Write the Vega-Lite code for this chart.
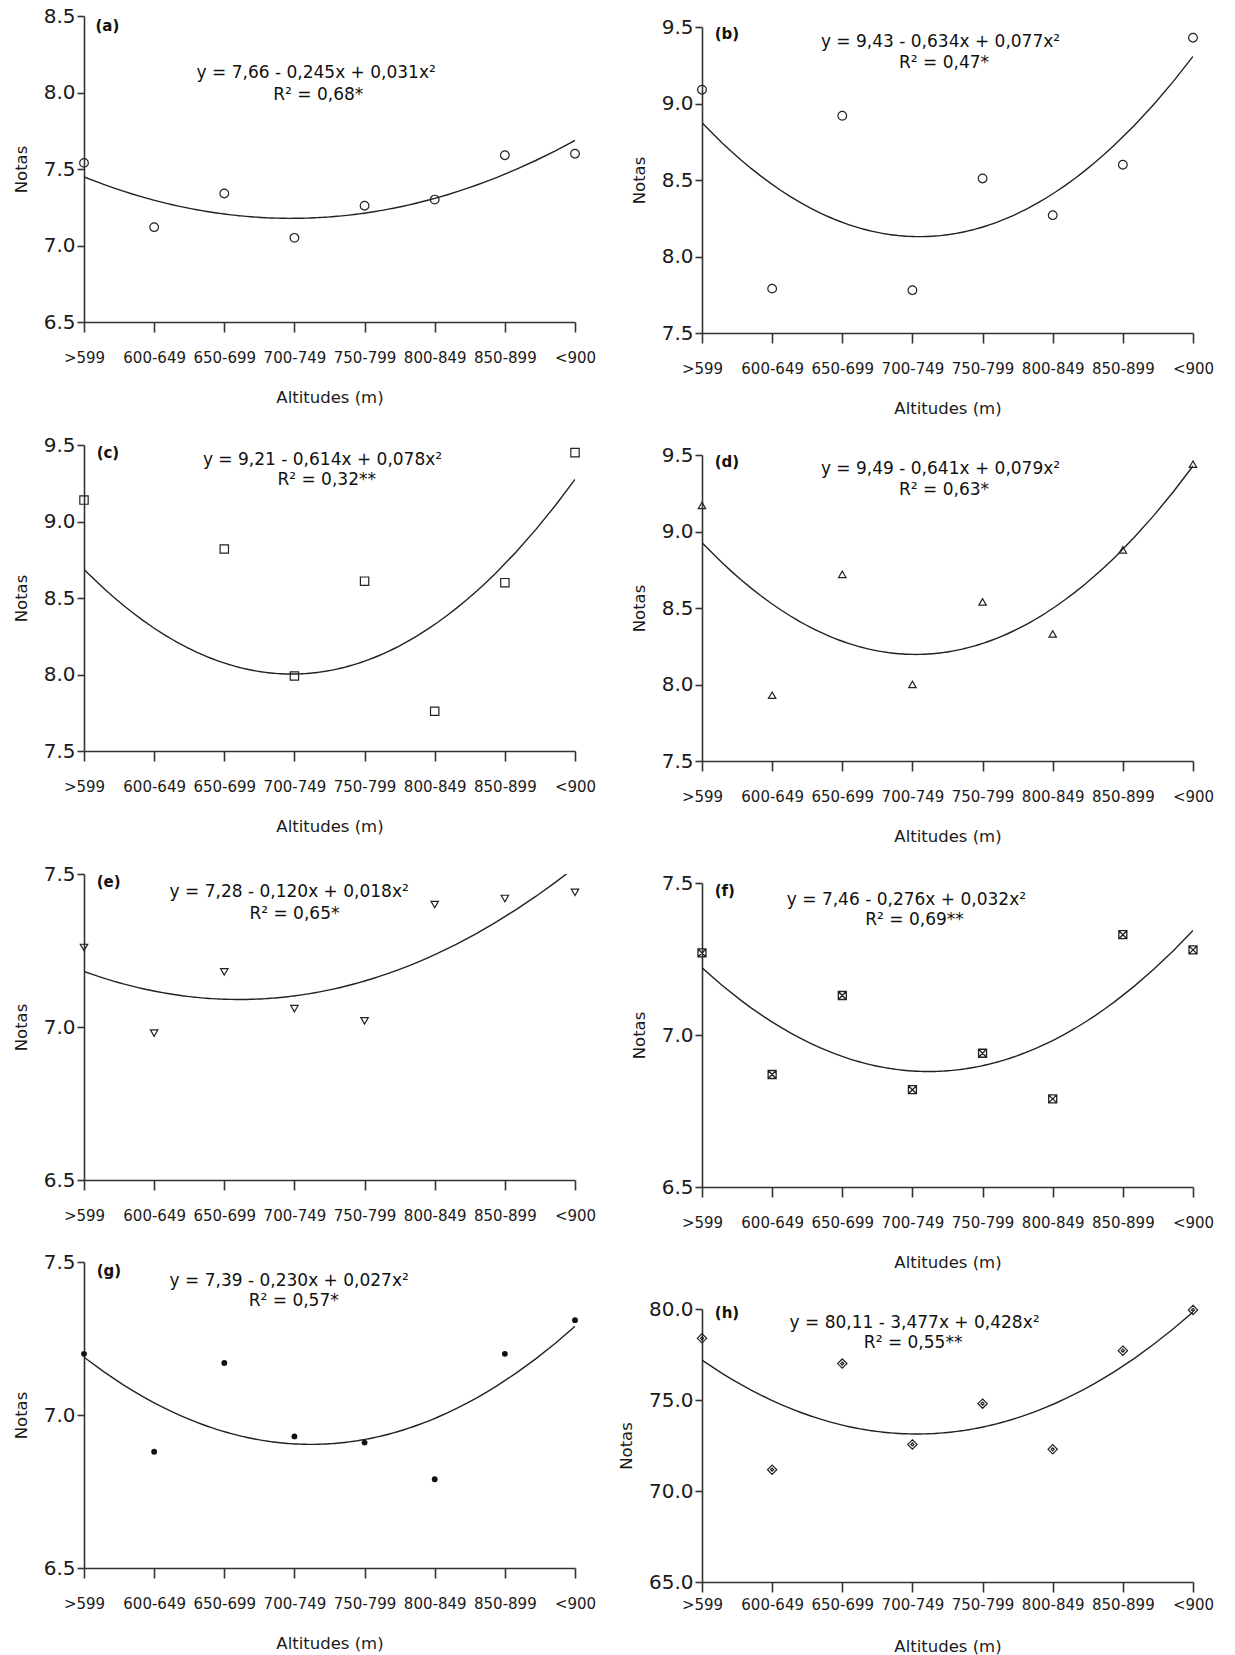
{
  "$schema": "https://vega.github.io/schema/vega-lite/v6.json",
  "background": "white",
  "padding": {"left": 13, "top": 6, "right": 5, "bottom": 5},
  "datasets": {
    "pts": [
      {"panel": "a", "alt": 1, "nota": 7.54}, {"panel": "a", "alt": 2, "nota": 7.12}, {"panel": "a", "alt": 3, "nota": 7.34}, {"panel": "a", "alt": 4, "nota": 7.05},
      {"panel": "a", "alt": 5, "nota": 7.26}, {"panel": "a", "alt": 6, "nota": 7.30}, {"panel": "a", "alt": 7, "nota": 7.59}, {"panel": "a", "alt": 8, "nota": 7.60},
      {"panel": "b", "alt": 1, "nota": 9.09}, {"panel": "b", "alt": 2, "nota": 7.79}, {"panel": "b", "alt": 3, "nota": 8.92}, {"panel": "b", "alt": 4, "nota": 7.78},
      {"panel": "b", "alt": 5, "nota": 8.51}, {"panel": "b", "alt": 6, "nota": 8.27}, {"panel": "b", "alt": 7, "nota": 8.60}, {"panel": "b", "alt": 8, "nota": 9.43},
      {"panel": "c", "alt": 1, "nota": 9.14}, {"panel": "c", "alt": 2, "nota": 7.11}, {"panel": "c", "alt": 3, "nota": 8.82}, {"panel": "c", "alt": 4, "nota": 7.99},
      {"panel": "c", "alt": 5, "nota": 8.61}, {"panel": "c", "alt": 6, "nota": 7.76}, {"panel": "c", "alt": 7, "nota": 8.60}, {"panel": "c", "alt": 8, "nota": 9.45},
      {"panel": "d", "alt": 1, "nota": 9.17}, {"panel": "d", "alt": 2, "nota": 7.93}, {"panel": "d", "alt": 3, "nota": 8.72}, {"panel": "d", "alt": 4, "nota": 8.00},
      {"panel": "d", "alt": 5, "nota": 8.54}, {"panel": "d", "alt": 6, "nota": 8.33}, {"panel": "d", "alt": 7, "nota": 8.88}, {"panel": "d", "alt": 8, "nota": 9.44},
      {"panel": "e", "alt": 1, "nota": 7.26}, {"panel": "e", "alt": 2, "nota": 6.98}, {"panel": "e", "alt": 3, "nota": 7.18}, {"panel": "e", "alt": 4, "nota": 7.06},
      {"panel": "e", "alt": 5, "nota": 7.02}, {"panel": "e", "alt": 6, "nota": 7.40}, {"panel": "e", "alt": 7, "nota": 7.42}, {"panel": "e", "alt": 8, "nota": 7.44},
      {"panel": "f", "alt": 1, "nota": 7.27}, {"panel": "f", "alt": 2, "nota": 6.87}, {"panel": "f", "alt": 3, "nota": 7.13}, {"panel": "f", "alt": 4, "nota": 6.82},
      {"panel": "f", "alt": 5, "nota": 6.94}, {"panel": "f", "alt": 6, "nota": 6.79}, {"panel": "f", "alt": 7, "nota": 7.33}, {"panel": "f", "alt": 8, "nota": 7.28},
      {"panel": "g", "alt": 1, "nota": 7.20}, {"panel": "g", "alt": 2, "nota": 6.88}, {"panel": "g", "alt": 3, "nota": 7.17}, {"panel": "g", "alt": 4, "nota": 6.93},
      {"panel": "g", "alt": 5, "nota": 6.91}, {"panel": "g", "alt": 6, "nota": 6.79}, {"panel": "g", "alt": 7, "nota": 7.20}, {"panel": "g", "alt": 8, "nota": 7.31},
      {"panel": "h", "alt": 1, "nota": 78.39}, {"panel": "h", "alt": 2, "nota": 71.17}, {"panel": "h", "alt": 3, "nota": 77.0}, {"panel": "h", "alt": 4, "nota": 72.56},
      {"panel": "h", "alt": 5, "nota": 74.8}, {"panel": "h", "alt": 6, "nota": 72.29}, {"panel": "h", "alt": 7, "nota": 77.71}, {"panel": "h", "alt": 8, "nota": 79.95}
    ],
    "notes": [
      {"panel": "a", "tag": "(a)", "eq": "y = 7,66 - 0,245x + 0,031x²", "r2": "R² = 0,68*"},
      {"panel": "b", "tag": "(b)", "eq": "y = 9,43 - 0,634x + 0,077x²", "r2": "R² = 0,47*"},
      {"panel": "c", "tag": "(c)", "eq": "y = 9,21 - 0,614x + 0,078x²", "r2": "R² = 0,32**"},
      {"panel": "d", "tag": "(d)", "eq": "y = 9,49 - 0,641x + 0,079x²", "r2": "R² = 0,63*"},
      {"panel": "e", "tag": "(e)", "eq": "y = 7,28 - 0,120x + 0,018x²", "r2": "R² = 0,65*"},
      {"panel": "f", "tag": "(f)", "eq": "y = 7,46 - 0,276x + 0,032x²", "r2": "R² = 0,69**"},
      {"panel": "g", "tag": "(g)", "eq": "y = 7,39 - 0,230x + 0,027x²", "r2": "R² = 0,57*"},
      {"panel": "h", "tag": "(h)", "eq": "y = 80,11 - 3,477x + 0,428x²", "r2": "R² = 0,55**"}
    ]
  },
  "hconcat": [
    {
      "spacing": 29,
      "vconcat": [
        {
          "width": 491, "height": 306,
          "layer": [
            {"data": {"name": "pts"}, "transform": [{"filter": "datum.panel === 'a'"}],
             "mark": {"type": "point", "shape": "circle", "size": 75, "filled": false, "color": "#222", "strokeWidth": 1.2, "opacity": 1},
             "encoding": {
               "x": {"field": "alt", "type": "quantitative", "scale": {"domain": [1, 8], "nice": false, "zero": false},
                     "axis": {"values": [1, 2, 3, 4, 5, 6, 7, 8], "labelExpr": "['>599','600-649','650-699','700-749','750-799','800-849','850-899','<900'][datum.value - 1]", "title": "Altitudes (m)"}},
               "y": {"field": "nota", "type": "quantitative", "scale": {"domain": [6.5, 8.5], "nice": false, "zero": false},
                     "axis": {"values": [6.5, 7, 7.5, 8, 8.5], "format": ".1f", "title": "Notas"}}}},
            {"data": {"name": "pts"}, "transform": [{"filter": "datum.panel === 'a'"}, {"regression": "nota", "on": "alt", "method": "poly", "order": 2, "extent": [1, 8]}],
             "mark": {"type": "line", "color": "#222", "strokeWidth": 1.4, "clip": true},
             "encoding": {"x": {"field": "alt", "type": "quantitative", "title": "Altitudes (m)"}, "y": {"field": "nota", "type": "quantitative", "title": "Notas"}}},
            {"data": {"name": "notes"}, "transform": [{"filter": "datum.panel === 'a'"}],
             "mark": {"type": "text", "align": "left", "baseline": "middle", "fontSize": 15, "fontWeight": "bold", "color": "#111"},
             "encoding": {"x": {"datum": 1.163}, "y": {"datum": 8.435}, "text": {"field": "tag"}}},
            {"data": {"name": "notes"}, "transform": [{"filter": "datum.panel === 'a'"}],
             "mark": {"type": "text", "align": "center", "baseline": "middle", "fontSize": 17, "color": "#111"},
             "encoding": {"x": {"datum": 4.31}, "y": {"datum": 8.126}, "text": {"field": "eq"}}},
            {"data": {"name": "notes"}, "transform": [{"filter": "datum.panel === 'a'"}],
             "mark": {"type": "text", "align": "center", "baseline": "middle", "fontSize": 17, "color": "#111"},
             "encoding": {"x": {"datum": 4.34}, "y": {"datum": 7.984}, "text": {"field": "r2"}}}
          ]
        },
        {
          "width": 491, "height": 306,
          "layer": [
            {"data": {"name": "pts"}, "transform": [{"filter": "datum.panel === 'c'"}, {"filter": "datum.nota >= 7.5"}],
             "mark": {"type": "point", "shape": "square", "size": 70, "filled": false, "color": "#222", "strokeWidth": 1.2, "opacity": 1},
             "encoding": {
               "x": {"field": "alt", "type": "quantitative", "scale": {"domain": [1, 8], "nice": false, "zero": false},
                     "axis": {"values": [1, 2, 3, 4, 5, 6, 7, 8], "labelExpr": "['>599','600-649','650-699','700-749','750-799','800-849','850-899','<900'][datum.value - 1]", "title": "Altitudes (m)"}},
               "y": {"field": "nota", "type": "quantitative", "scale": {"domain": [7.5, 9.5], "nice": false, "zero": false},
                     "axis": {"values": [7.5, 8, 8.5, 9, 9.5], "format": ".1f", "title": "Notas"}}}},
            {"data": {"name": "pts"}, "transform": [{"filter": "datum.panel === 'c'"}, {"regression": "nota", "on": "alt", "method": "poly", "order": 2, "extent": [1, 8]}],
             "mark": {"type": "line", "color": "#222", "strokeWidth": 1.4, "clip": true},
             "encoding": {"x": {"field": "alt", "type": "quantitative", "title": "Altitudes (m)"}, "y": {"field": "nota", "type": "quantitative", "title": "Notas"}}},
            {"data": {"name": "notes"}, "transform": [{"filter": "datum.panel === 'c'"}],
             "mark": {"type": "text", "align": "left", "baseline": "middle", "fontSize": 15, "fontWeight": "bold", "color": "#111"},
             "encoding": {"x": {"datum": 1.18}, "y": {"datum": 9.45}, "text": {"field": "tag"}}},
            {"data": {"name": "notes"}, "transform": [{"filter": "datum.panel === 'c'"}],
             "mark": {"type": "text", "align": "center", "baseline": "middle", "fontSize": 17, "color": "#111"},
             "encoding": {"x": {"datum": 4.40}, "y": {"datum": 9.402}, "text": {"field": "eq"}}},
            {"data": {"name": "notes"}, "transform": [{"filter": "datum.panel === 'c'"}],
             "mark": {"type": "text", "align": "center", "baseline": "middle", "fontSize": 17, "color": "#111"},
             "encoding": {"x": {"datum": 4.46}, "y": {"datum": 9.271}, "text": {"field": "r2"}}}
          ]
        },
        {
          "width": 491, "height": 306,
          "layer": [
            {"data": {"name": "pts"}, "transform": [{"filter": "datum.panel === 'e'"}],
             "mark": {"type": "point", "shape": "triangle-down", "size": 55, "filled": false, "color": "#222", "strokeWidth": 1.2, "opacity": 1},
             "encoding": {
               "x": {"field": "alt", "type": "quantitative", "scale": {"domain": [1, 8], "nice": false, "zero": false},
                     "axis": {"values": [1, 2, 3, 4, 5, 6, 7, 8], "labelExpr": "['>599','600-649','650-699','700-749','750-799','800-849','850-899','<900'][datum.value - 1]", "title": null}},
               "y": {"field": "nota", "type": "quantitative", "scale": {"domain": [6.5, 7.5], "nice": false, "zero": false},
                     "axis": {"values": [6.5, 7, 7.5], "format": ".1f", "title": "Notas"}}}},
            {"data": {"name": "pts"}, "transform": [{"filter": "datum.panel === 'e'"}, {"regression": "nota", "on": "alt", "method": "poly", "order": 2, "extent": [1, 8]}],
             "mark": {"type": "line", "color": "#222", "strokeWidth": 1.4, "clip": true},
             "encoding": {"x": {"field": "alt", "type": "quantitative", "title": null}, "y": {"field": "nota", "type": "quantitative", "title": "Notas"}}},
            {"data": {"name": "notes"}, "transform": [{"filter": "datum.panel === 'e'"}],
             "mark": {"type": "text", "align": "left", "baseline": "middle", "fontSize": 15, "fontWeight": "bold", "color": "#111"},
             "encoding": {"x": {"datum": 1.18}, "y": {"datum": 7.473}, "text": {"field": "tag"}}},
            {"data": {"name": "notes"}, "transform": [{"filter": "datum.panel === 'e'"}],
             "mark": {"type": "text", "align": "center", "baseline": "middle", "fontSize": 17, "color": "#111"},
             "encoding": {"x": {"datum": 3.925}, "y": {"datum": 7.44}, "text": {"field": "eq"}}},
            {"data": {"name": "notes"}, "transform": [{"filter": "datum.panel === 'e'"}],
             "mark": {"type": "text", "align": "center", "baseline": "middle", "fontSize": 17, "color": "#111"},
             "encoding": {"x": {"datum": 4.0}, "y": {"datum": 7.369}, "text": {"field": "r2"}}}
          ]
        },
        {
          "width": 491, "height": 306,
          "layer": [
            {"data": {"name": "pts"}, "transform": [{"filter": "datum.panel === 'g'"}],
             "mark": {"type": "point", "shape": "circle", "size": 34, "filled": true, "color": "#111", "opacity": 1},
             "encoding": {
               "x": {"field": "alt", "type": "quantitative", "scale": {"domain": [1, 8], "nice": false, "zero": false},
                     "axis": {"values": [1, 2, 3, 4, 5, 6, 7, 8], "labelExpr": "['>599','600-649','650-699','700-749','750-799','800-849','850-899','<900'][datum.value - 1]", "title": "Altitudes (m)"}},
               "y": {"field": "nota", "type": "quantitative", "scale": {"domain": [6.5, 7.5], "nice": false, "zero": false},
                     "axis": {"values": [6.5, 7, 7.5], "format": ".1f", "title": "Notas"}}}},
            {"data": {"name": "pts"}, "transform": [{"filter": "datum.panel === 'g'"}, {"regression": "nota", "on": "alt", "method": "poly", "order": 2, "extent": [1, 8]}],
             "mark": {"type": "line", "color": "#222", "strokeWidth": 1.4, "clip": true},
             "encoding": {"x": {"field": "alt", "type": "quantitative", "title": "Altitudes (m)"}, "y": {"field": "nota", "type": "quantitative", "title": "Notas"}}},
            {"data": {"name": "notes"}, "transform": [{"filter": "datum.panel === 'g'"}],
             "mark": {"type": "text", "align": "left", "baseline": "middle", "fontSize": 15, "fontWeight": "bold", "color": "#111"},
             "encoding": {"x": {"datum": 1.18}, "y": {"datum": 7.47}, "text": {"field": "tag"}}},
            {"data": {"name": "notes"}, "transform": [{"filter": "datum.panel === 'g'"}],
             "mark": {"type": "text", "align": "center", "baseline": "middle", "fontSize": 17, "color": "#111"},
             "encoding": {"x": {"datum": 3.925}, "y": {"datum": 7.439}, "text": {"field": "eq"}}},
            {"data": {"name": "notes"}, "transform": [{"filter": "datum.panel === 'g'"}],
             "mark": {"type": "text", "align": "center", "baseline": "middle", "fontSize": 17, "color": "#111"},
             "encoding": {"x": {"datum": 3.99}, "y": {"datum": 7.374}, "text": {"field": "r2"}}}
          ]
        }
      ]
    },
    {
      "spacing": 0,
      "vconcat": [
        {"width": 491, "height": 1, "data": {"values": []}, "mark": {"type": "point", "opacity": 0}},
        {
          "spacing": 28,
          "vconcat": [
            {
              "width": 491, "height": 306,
              "layer": [
                {"data": {"name": "pts"}, "transform": [{"filter": "datum.panel === 'b'"}],
                 "mark": {"type": "point", "shape": "circle", "size": 75, "filled": false, "color": "#222", "strokeWidth": 1.2, "opacity": 1},
                 "encoding": {
                   "x": {"field": "alt", "type": "quantitative", "scale": {"domain": [1, 8], "nice": false, "zero": false},
                         "axis": {"values": [1, 2, 3, 4, 5, 6, 7, 8], "labelExpr": "['>599','600-649','650-699','700-749','750-799','800-849','850-899','<900'][datum.value - 1]", "title": "Altitudes (m)"}},
                   "y": {"field": "nota", "type": "quantitative", "scale": {"domain": [7.5, 9.5], "nice": false, "zero": false},
                         "axis": {"values": [7.5, 8, 8.5, 9, 9.5], "format": ".1f", "title": "Notas"}}}},
                {"data": {"name": "pts"}, "transform": [{"filter": "datum.panel === 'b'"}, {"regression": "nota", "on": "alt", "method": "poly", "order": 2, "extent": [1, 8]}],
                 "mark": {"type": "line", "color": "#222", "strokeWidth": 1.4, "clip": true},
                 "encoding": {"x": {"field": "alt", "type": "quantitative", "title": "Altitudes (m)"}, "y": {"field": "nota", "type": "quantitative", "title": "Notas"}}},
                {"data": {"name": "notes"}, "transform": [{"filter": "datum.panel === 'b'"}],
                 "mark": {"type": "text", "align": "left", "baseline": "middle", "fontSize": 15, "fontWeight": "bold", "color": "#111"},
                 "encoding": {"x": {"datum": 1.18}, "y": {"datum": 9.452}, "text": {"field": "tag"}}},
                {"data": {"name": "notes"}, "transform": [{"filter": "datum.panel === 'b'"}],
                 "mark": {"type": "text", "align": "center", "baseline": "middle", "fontSize": 17, "color": "#111"},
                 "encoding": {"x": {"datum": 4.40}, "y": {"datum": 9.404}, "text": {"field": "eq"}}},
                {"data": {"name": "notes"}, "transform": [{"filter": "datum.panel === 'b'"}],
                 "mark": {"type": "text", "align": "center", "baseline": "middle", "fontSize": 17, "color": "#111"},
                 "encoding": {"x": {"datum": 4.45}, "y": {"datum": 9.267}, "text": {"field": "r2"}}}
              ]
            },
            {
              "width": 491, "height": 306,
              "layer": [
                {"data": {"name": "pts"}, "transform": [{"filter": "datum.panel === 'd'"}],
                 "mark": {"type": "point", "shape": "triangle-up", "size": 55, "filled": false, "color": "#222", "strokeWidth": 1.2, "opacity": 1},
                 "encoding": {
                   "x": {"field": "alt", "type": "quantitative", "scale": {"domain": [1, 8], "nice": false, "zero": false},
                         "axis": {"values": [1, 2, 3, 4, 5, 6, 7, 8], "labelExpr": "['>599','600-649','650-699','700-749','750-799','800-849','850-899','<900'][datum.value - 1]", "title": "Altitudes (m)"}},
                   "y": {"field": "nota", "type": "quantitative", "scale": {"domain": [7.5, 9.5], "nice": false, "zero": false},
                         "axis": {"values": [7.5, 8, 8.5, 9, 9.5], "format": ".1f", "title": "Notas"}}}},
                {"data": {"name": "pts"}, "transform": [{"filter": "datum.panel === 'd'"}, {"regression": "nota", "on": "alt", "method": "poly", "order": 2, "extent": [1, 8]}],
                 "mark": {"type": "line", "color": "#222", "strokeWidth": 1.4, "clip": true},
                 "encoding": {"x": {"field": "alt", "type": "quantitative", "title": "Altitudes (m)"}, "y": {"field": "nota", "type": "quantitative", "title": "Notas"}}},
                {"data": {"name": "notes"}, "transform": [{"filter": "datum.panel === 'd'"}],
                 "mark": {"type": "text", "align": "left", "baseline": "middle", "fontSize": 15, "fontWeight": "bold", "color": "#111"},
                 "encoding": {"x": {"datum": 1.18}, "y": {"datum": 9.454}, "text": {"field": "tag"}}},
                {"data": {"name": "notes"}, "transform": [{"filter": "datum.panel === 'd'"}],
                 "mark": {"type": "text", "align": "center", "baseline": "middle", "fontSize": 17, "color": "#111"},
                 "encoding": {"x": {"datum": 4.40}, "y": {"datum": 9.41}, "text": {"field": "eq"}}},
                {"data": {"name": "notes"}, "transform": [{"filter": "datum.panel === 'd'"}],
                 "mark": {"type": "text", "align": "center", "baseline": "middle", "fontSize": 17, "color": "#111"},
                 "encoding": {"x": {"datum": 4.45}, "y": {"datum": 9.269}, "text": {"field": "r2"}}}
              ]
            },
            {
              "width": 491, "height": 304,
              "layer": [
                {"data": {"name": "pts"}, "transform": [{"filter": "datum.panel === 'f'"}],
                 "mark": {"type": "point", "shape": "M-1,-1H1V1H-1Z M-1,-1L1,1 M1,-1L-1,1", "size": 64, "filled": false, "color": "#222", "strokeWidth": 1.3, "opacity": 1},
                 "encoding": {
                   "x": {"field": "alt", "type": "quantitative", "scale": {"domain": [1, 8], "nice": false, "zero": false},
                         "axis": {"values": [1, 2, 3, 4, 5, 6, 7, 8], "labelExpr": "['>599','600-649','650-699','700-749','750-799','800-849','850-899','<900'][datum.value - 1]", "title": "Altitudes (m)"}},
                   "y": {"field": "nota", "type": "quantitative", "scale": {"domain": [6.5, 7.5], "nice": false, "zero": false},
                         "axis": {"values": [6.5, 7, 7.5], "format": ".1f", "title": "Notas"}}}},
                {"data": {"name": "pts"}, "transform": [{"filter": "datum.panel === 'f'"}, {"regression": "nota", "on": "alt", "method": "poly", "order": 2, "extent": [1, 8]}],
                 "mark": {"type": "line", "color": "#222", "strokeWidth": 1.4, "clip": true},
                 "encoding": {"x": {"field": "alt", "type": "quantitative", "title": "Altitudes (m)"}, "y": {"field": "nota", "type": "quantitative", "title": "Notas"}}},
                {"data": {"name": "notes"}, "transform": [{"filter": "datum.panel === 'f'"}],
                 "mark": {"type": "text", "align": "left", "baseline": "middle", "fontSize": 15, "fontWeight": "bold", "color": "#111"},
                 "encoding": {"x": {"datum": 1.18}, "y": {"datum": 7.475}, "text": {"field": "tag"}}},
                {"data": {"name": "notes"}, "transform": [{"filter": "datum.panel === 'f'"}],
                 "mark": {"type": "text", "align": "center", "baseline": "middle", "fontSize": 17, "color": "#111"},
                 "encoding": {"x": {"datum": 3.914}, "y": {"datum": 7.444}, "text": {"field": "eq"}}},
                {"data": {"name": "notes"}, "transform": [{"filter": "datum.panel === 'f'"}],
                 "mark": {"type": "text", "align": "center", "baseline": "middle", "fontSize": 17, "color": "#111"},
                 "encoding": {"x": {"datum": 4.03}, "y": {"datum": 7.379}, "text": {"field": "r2"}}}
              ]
            },
            {
              "width": 491, "height": 273,
              "layer": [
                {"data": {"name": "pts"}, "transform": [{"filter": "datum.panel === 'h'"}],
                 "mark": {"type": "point", "shape": "M0,-1.2L1.2,0L0,1.2L-1.2,0Z M-0.4,0L0,-0.4L0.4,0L0,0.4Z", "size": 60, "filled": false, "color": "#222", "strokeWidth": 1.2, "opacity": 1},
                 "encoding": {
                   "x": {"field": "alt", "type": "quantitative", "scale": {"domain": [1, 8], "nice": false, "zero": false},
                         "axis": {"values": [1, 2, 3, 4, 5, 6, 7, 8], "labelExpr": "['>599','600-649','650-699','700-749','750-799','800-849','850-899','<900'][datum.value - 1]", "title": "Altitudes (m)", "labelPadding": 5, "titlePadding": 26}},
                   "y": {"field": "nota", "type": "quantitative", "scale": {"domain": [65, 80], "nice": false, "zero": false},
                         "axis": {"values": [65, 70, 75, 80], "format": ".1f", "title": "Notas"}}}},
                {"data": {"name": "pts"}, "transform": [{"filter": "datum.panel === 'h'"}, {"regression": "nota", "on": "alt", "method": "poly", "order": 2, "extent": [1, 8]}],
                 "mark": {"type": "line", "color": "#222", "strokeWidth": 1.4, "clip": true},
                 "encoding": {"x": {"field": "alt", "type": "quantitative", "title": "Altitudes (m)"}, "y": {"field": "nota", "type": "quantitative", "title": "Notas"}}},
                {"data": {"name": "notes"}, "transform": [{"filter": "datum.panel === 'h'"}],
                 "mark": {"type": "text", "align": "left", "baseline": "middle", "fontSize": 15, "fontWeight": "bold", "color": "#111"},
                 "encoding": {"x": {"datum": 1.183}, "y": {"datum": 79.78}, "text": {"field": "tag"}}},
                {"data": {"name": "notes"}, "transform": [{"filter": "datum.panel === 'h'"}],
                 "mark": {"type": "text", "align": "center", "baseline": "middle", "fontSize": 17, "color": "#111"},
                 "encoding": {"x": {"datum": 4.03}, "y": {"datum": 79.23}, "text": {"field": "eq"}}},
                {"data": {"name": "notes"}, "transform": [{"filter": "datum.panel === 'h'"}],
                 "mark": {"type": "text", "align": "center", "baseline": "middle", "fontSize": 17, "color": "#111"},
                 "encoding": {"x": {"datum": 4.01}, "y": {"datum": 78.13}, "text": {"field": "r2"}}}
              ]
            }
          ]
        }
      ]
    }
  ],
  "spacing": 22,
  "config": {
    "font": "DejaVu Sans",
    "view": {"stroke": null},
    "axis": {
      "grid": false,
      "domainColor": "#333",
      "domainWidth": 1.6,
      "tickColor": "#333",
      "tickWidth": 1.6,
      "labelFont": "DejaVu Sans",
      "titleFont": "DejaVu Sans",
      "labelColor": "#1a1a1a",
      "titleColor": "#1a1a1a",
      "titleFontWeight": "normal",
      "labelFlush": false,
      "labelOverlap": false
    },
    "axisX": {"tickSize": 10, "labelPadding": 18, "labelFontSize": 15, "titleFontSize": 16.5, "titlePadding": 24},
    "axisY": {"tickSize": 7, "labelPadding": 2, "labelFontSize": 20, "titleFontSize": 16.5, "titlePadding": 14}
  }
}
